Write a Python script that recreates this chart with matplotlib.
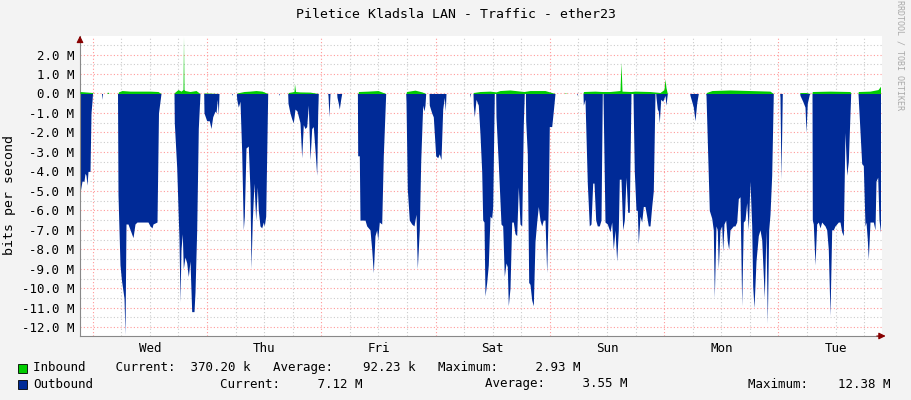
import numpy as np
import matplotlib
matplotlib.use("Agg")
import matplotlib.pyplot as plt

# time in 5-minute-ish samples since graph start (1 sample = 12.6 min), values in Mbit/s
out_t = [0, 2, 4, 5, 6, 7, 8, 10, 11, 12, 12.5,
         21.5, 22, 22.5,
         37.5, 38, 40, 41.5, 44, 45, 46, 48, 53, 55, 57, 68, 70, 72, 73, 77, 78.5, 81,
         94, 94.3, 96.7, 99, 100, 101, 102.3, 103.3, 105, 106.7, 108.3, 110, 111.7, 114, 115, 116.7, 118.3, 120,
         123.7, 124, 126.7, 129.3, 131, 132.7, 135, 136, 137.3, 138.3, 139,
         151.7, 152, 152.5,
         156.4, 156.7, 158.3, 160, 161.7, 163.3, 164.3, 166, 168.3, 170, 171, 172.3, 174, 175.7, 177.3, 178.3, 180, 181.7, 183.3, 184.3, 185.7, 187.7,
         198.7, 199, 199.5,
         207.7, 208, 210, 211.7, 213.3, 215, 217, 220, 221.7, 223.3, 225, 226.7, 228.3, 230, 231.7, 233.3, 235, 236.7, 237.7, 238.3,
         247.7, 248, 249, 250,
         256.7, 257, 258.3, 259.3, 260.7, 261.7,
         277.4, 277.7, 279.3, 280, 285, 286.7, 290, 291.7, 293.3, 295, 296.7, 297.7, 299.3, 301.7, 303.3, 305.7,
         325.7, 326, 327.3, 329.3, 331.7, 334, 336, 337.3, 339.3, 340.7, 342.7, 344, 345, 345.7,
         349, 349.3, 351.7, 353.3, 355.7, 357.7, 359.3, 361, 362.7, 364.3, 365.3, 366,
         389.7, 390, 390.5,
         393, 393.3, 394.3, 396, 398.3, 400, 401.7, 402.7, 404, 405, 406.7, 408.3, 410, 411.7, 412.7, 414.3,
         415.7, 416, 418.3, 421, 422.7, 424.3, 426, 427.3, 428.3, 430, 431.7, 433.3, 435, 436.7, 438.3, 440, 441.7, 443.3, 444.3,
         445.4, 445.7, 447.3, 448.7, 450, 451.7, 453.3, 455, 456.7, 458.3, 460, 461.7, 463.3, 465, 466.7, 468.3, 469.3, 471.7, 473.3, 475,
         496.7, 497, 497.5,
         503, 503.3, 505, 507.3, 509.3, 511, 512.7, 514, 515.7, 517.3, 519.3, 521, 522.3,
         523, 523.3, 525, 527.3, 530, 531.7, 533.3, 535, 536.7, 538.3, 539.3, 541, 542.7, 544.3, 546, 547.7, 549.3, 551,
         553, 553.3, 554.3, 556, 557.3, 558.3, 560, 561.7, 563.3, 565, 566.7, 568.3, 570, 571.7, 573.3, 575,
         575.7, 576, 577.3, 578.3, 579.3, 580.7, 582.7, 585, 586, 587.3,
         609.7, 610, 611.7, 613.3, 615, 616.7, 618.3,
         625.7, 626, 629.3, 631.7, 633.3, 634.3, 636, 637.3, 638.3, 640, 641.7, 642.7, 644, 645.7, 647.3, 648.7, 650, 651.7, 653.3,
         655, 656.7, 658.3, 660, 661.7, 663.3, 665, 666.7, 668.3, 670, 671.7, 672.7, 674, 676, 678.3, 680, 681.7, 684.3, 686, 687.3,
         688.7, 690, 691.7, 693.3,
         699.7, 700, 701, 702.3,
         719.7, 720, 722.7, 725, 726, 727.3, 729.3, 730,
         732, 732.3, 733.3, 735, 736.7, 738.3, 740, 741.7, 743.3, 745, 746.7, 748.3, 750, 751.7, 753.3, 755, 756.7, 758.3, 760, 761.7,
         763.3, 765, 766.7, 768.3, 770.7,
         778, 778.3, 781.7, 783.3, 785, 786, 787.3, 788.3, 790, 791.7, 793.3, 795, 796, 797.7, 799, 800.5]
out_v = [-5.1, -4.5, -4.5, -4.1, -4.2, -4.7, -4.0, -4.0, -1.0, -0.4, 0,
         0, -0.3, 0,
         0, -5.2, -8.8, -9.6, -10.5, -12.38, -6.7, -6.7, -7.4, -6.7, -6.6, -6.6, -6.8, -6.9, -6.7, -6.6, -1.0, 0,
         0, -1.5, -3.8, -7.5, -10.7, -8.0, -7.2, -9.0, -8.4, -8.7, -9.4, -8.6, -11.2, -11.2, -10.2, -7.0, -1.8, 0,
         0, -1.0, -1.4, -1.4, -1.8, -1.2, -0.9, -1.0, -0.3, -1.1, 0,
         0, -0.1, 0,
         0, -0.3, -0.7, -0.4, -3.0, -7.0, -6.3, -2.8, -2.7, -5.0, -9.0, -6.5, -4.6, -6.5, -4.8, -6.0, -6.8, -6.9, -6.6, -6.8, -6.3, 0,
         0, -0.1, 0,
         0, -0.5, -1.0, -1.3, -1.5, -0.8, -0.9, -1.5, -3.3, -1.6, -1.8, -1.7, -0.6, -3.4, -1.8, -1.7, -2.9, -4.2, -1.0, 0,
         0, -0.1, -1.2, 0,
         0, -0.2, -0.5, -0.8, -0.3, 0,
         0, -3.2, -3.2, -6.5, -6.5, -6.8, -7.0, -8.0, -9.2, -7.3, -7.0, -7.5, -6.6, -6.7, -3.2, 0,
         0, -0.4, -4.9, -6.5, -6.7, -6.8, -6.2, -9.0, -7.0, -3.5, -0.6, -0.9, -0.6, 0,
         0, -0.6, -1.0, -1.2, -3.2, -3.3, -3.1, -3.4, -0.8, -0.2, -0.9, 0,
         0, -0.2, 0,
         0, -0.6, -1.2, -0.3, -0.6, -2.1, -4.0, -6.5, -6.6, -10.4, -9.7, -8.8, -6.3, -6.4, -5.8, 0,
         0, -1.2, -3.6, -6.7, -6.8, -9.4, -8.7, -8.9, -10.9, -10.0, -6.6, -6.6, -7.2, -7.3, -4.8, -6.7, -6.8, -1.6, 0,
         0, -1.4, -3.1, -9.7, -9.8, -10.6, -10.9, -7.6, -6.6, -5.8, -6.5, -6.8, -6.5, -6.5, -9.2, -5.6, -1.7, -1.7, -0.9, 0,
         0, -0.1, 0,
         0, -0.6, -0.3, -4.6, -6.8, -6.7, -4.6, -4.6, -6.5, -6.8, -6.8, -6.5, 0,
         0, -1.0, -6.6, -6.7, -7.1, -6.6, -8.0, -7.0, -8.6, -7.0, -4.4, -4.4, -7.0, -6.5, -4.3, -6.1, -6.1, 0,
         0, -1.0, -4.0, -6.0, -6.0, -7.7, -6.3, -6.6, -5.8, -5.8, -6.3, -6.8, -6.8, -5.8, -5.0, 0,
         0, -0.2, -0.8, -0.9, -1.5, -0.3, -0.4, -0.1, -0.6, 0,
         0, -0.1, -0.4, -0.7, -1.4, -0.5, 0,
         0, -0.1, -6.0, -6.4, -7.0, -10.5, -6.8, -7.0, -9.0, -7.0, -6.8, -8.1, -6.7, -6.5, -7.6, -8.0, -7.0, -6.9, -6.8,
         -6.8, -6.6, -5.4, -5.3, -10.9, -6.6, -6.5, -5.6, -7.0, -4.5, -6.8, -9.9, -11.0, -8.6, -7.3, -7.0, -7.5, -10.5, -7.0, -11.8,
         -7.0, -6.2, -4.2, 0,
         0, -0.2, -4.4, 0,
         0, -0.1, -0.4, -0.7, -2.0, -0.5, -0.05, 0,
         0, -6.5, -6.7, -8.8, -6.7, -6.6, -6.9, -6.6, -6.7, -6.8, -7.0, -8.0, -11.4, -7.0, -7.0, -6.8, -6.7, -6.6, -6.6, -7.1,
         -7.3, -2.0, -4.2, -3.5, 0,
         0, -0.3, -3.6, -3.7, -6.8, -6.6, -7.5, -8.5, -6.6, -6.6, -6.6, -7.0, -4.5, -4.3, -6.5, -7.12]

in_t = [0, 12.5, 13, 27, 27.5, 29, 38, 38.5, 42, 50, 60, 70, 78, 81, 94, 94.5, 98, 101, 103, 103.5, 104, 105, 110, 116, 120,
        124, 124.5, 139, 157, 157.5, 164, 170, 176, 182, 187.7, 208, 208.5, 214, 214.5, 215.5, 220, 230, 238.3,
        278, 278.5, 288, 298, 305.7, 326, 326.5, 335, 342, 345.7, 393, 393.5, 400, 410, 416, 420, 430, 444, 450, 465, 475,
        484.5, 485, 487, 503, 503.5, 515, 522, 530, 540, 541, 542, 551, 555, 570, 580, 584, 585, 586, 587.3,
        626, 626.5, 632, 650, 670, 690, 693.3, 719.7, 720, 726, 730, 732, 732.3, 750, 770, 771, 778, 778.3, 790, 798, 800.5]
in_v = [0.1, 0.05, 0, 0, 0.08, 0, 0, 0.08, 0.15, 0.12, 0.12, 0.12, 0.1, 0, 0, 0.05, 0.2, 0.12, 0.2, 2.93, 0.2, 0.15, 0.1, 0.15, 0,
        0, 0.03, 0, 0, 0.03, 0.1, 0.12, 0.15, 0.12, 0, 0, 0.05, 0.1, 0.5, 0.1, 0.08, 0.07, 0,
        0, 0.1, 0.12, 0.15, 0, 0, 0.1, 0.17, 0.08, 0, 0, 0.05, 0.1, 0.12, 0.08, 0.15, 0.18, 0.1, 0.15, 0.15, 0,
        0, 0.03, 0, 0, 0.1, 0.12, 0.1, 0.1, 0.15, 1.6, 0.12, 0.1, 0.12, 0.1, 0.05, 0.2, 0.75, 0.3, 0,
        0, 0.05, 0.15, 0.18, 0.15, 0.12, 0, 0, 0.05, 0.05, 0, 0, 0.1, 0.12, 0.1, 0, 0, 0.1, 0.12, 0.2, 0.37]

days = ["Wed", "Thu", "Fri", "Sat", "Sun", "Mon", "Tue"]
yticks = [2, 1, 0, -1, -2, -3, -4, -5, -6, -7, -8, -9, -10, -11, -12]

SPD = 114.29          # samples per day
first_midnight = 12.7 # samples from start to Wed 00:00

mono = "DejaVu Sans Mono"
bg = "#f3f3f3"
green = "#00cc00"
blue = "#002a97"

fig = plt.figure(figsize=(9.11, 4.0), dpi=100, facecolor=bg)
ax = fig.add_axes([80 / 911, 64 / 400, 802 / 911, 300 / 400])
ax.set_facecolor("white")
ax.set_xlim(0, 802)
ax.set_ylim(-12.45, 2.95)

# grid
for k in range(-1, 8):
    for j in range(4):
        x = first_midnight + k * SPD + j * SPD / 4
        if 0 < x < 802:
            col = "#ff9999" if j == 0 else "#cccccc"
            ax.axvline(x, color=col, lw=0.8, ls=(0, (1, 2)), zorder=0)
for v in np.arange(-12, 3, 0.5):
    col = "#ff9999" if float(v).is_integer() else "#cccccc"
    ax.axhline(v, color=col, lw=0.8, ls=(0, (1, 2)), zorder=0)

ax.fill_between(out_t, out_v, 0, color=blue, lw=0, zorder=2)
ax.fill_between(in_t, in_v, 0, color=green, lw=0, zorder=3)

ax.set_yticks(yticks)
ax.set_yticklabels([f"{v:.1f} M" for v in yticks], fontfamily=mono, fontsize=9)
ax.set_xticks([first_midnight + SPD / 2 + k * SPD for k in range(7)])
ax.set_xticklabels(days, fontfamily=mono, fontsize=9)
ax.tick_params(length=0, pad=4)
for s in ["top", "right"]:
    ax.spines[s].set_visible(False)
for s in ["left", "bottom"]:
    ax.spines[s].set_color("#888888")
ax.annotate("", xy=(0, 1.01), xytext=(0, 0.98), xycoords="axes fraction",
            arrowprops=dict(arrowstyle="-|>", color="#880000", lw=0.8))
ax.annotate("", xy=(1.008, 0), xytext=(0.99, 0), xycoords="axes fraction",
            arrowprops=dict(arrowstyle="-|>", color="#880000", lw=0.8))

fig.text(0.5, 1 - 14 / 400, "Piletice Kladsla LAN - Traffic - ether23", ha="center", va="center",
         fontfamily=mono, fontsize=9.5)
fig.text(10 / 911, 0.5 + 5 / 400, "bits per second", rotation=90, ha="center", va="center",
         fontfamily=mono, fontsize=9.5)
fig.text(900 / 911, 1 - 55 / 400, "RRDTOOL / TOBI OETIKER", rotation=270, ha="center", va="center",
         fontfamily=mono, fontsize=6, color="#aaaaaa")

# legend
for yy, col in [(368, green), (384, blue)]:
    fig.patches.append(plt.Rectangle((18 / 911, 1 - (yy + 5) / 400), 9 / 911, 9 / 400,
                                     transform=fig.transFigure, facecolor=col, edgecolor="black", lw=0.6))
fig.text(33 / 911, 1 - 368 / 400, "Inbound    Current:  370.20 k   Average:    92.23 k   Maximum:     2.93 M",
         va="center", fontfamily=mono, fontsize=9)
fig.text(33 / 911, 1 - 384 / 400, "Outbound", va="center", fontfamily=mono, fontsize=9)
fig.text(220 / 911, 1 - 384 / 400, "Current:     7.12 M", va="center", fontfamily=mono, fontsize=9)
fig.text(485 / 911, 1 - 384 / 400, "Average:     3.55 M", va="center", fontfamily=mono, fontsize=9)
fig.text(748 / 911, 1 - 384 / 400, "Maximum:    12.38 M", va="center", fontfamily=mono, fontsize=9)

fig.savefig("out.png", dpi=100, facecolor=bg)
